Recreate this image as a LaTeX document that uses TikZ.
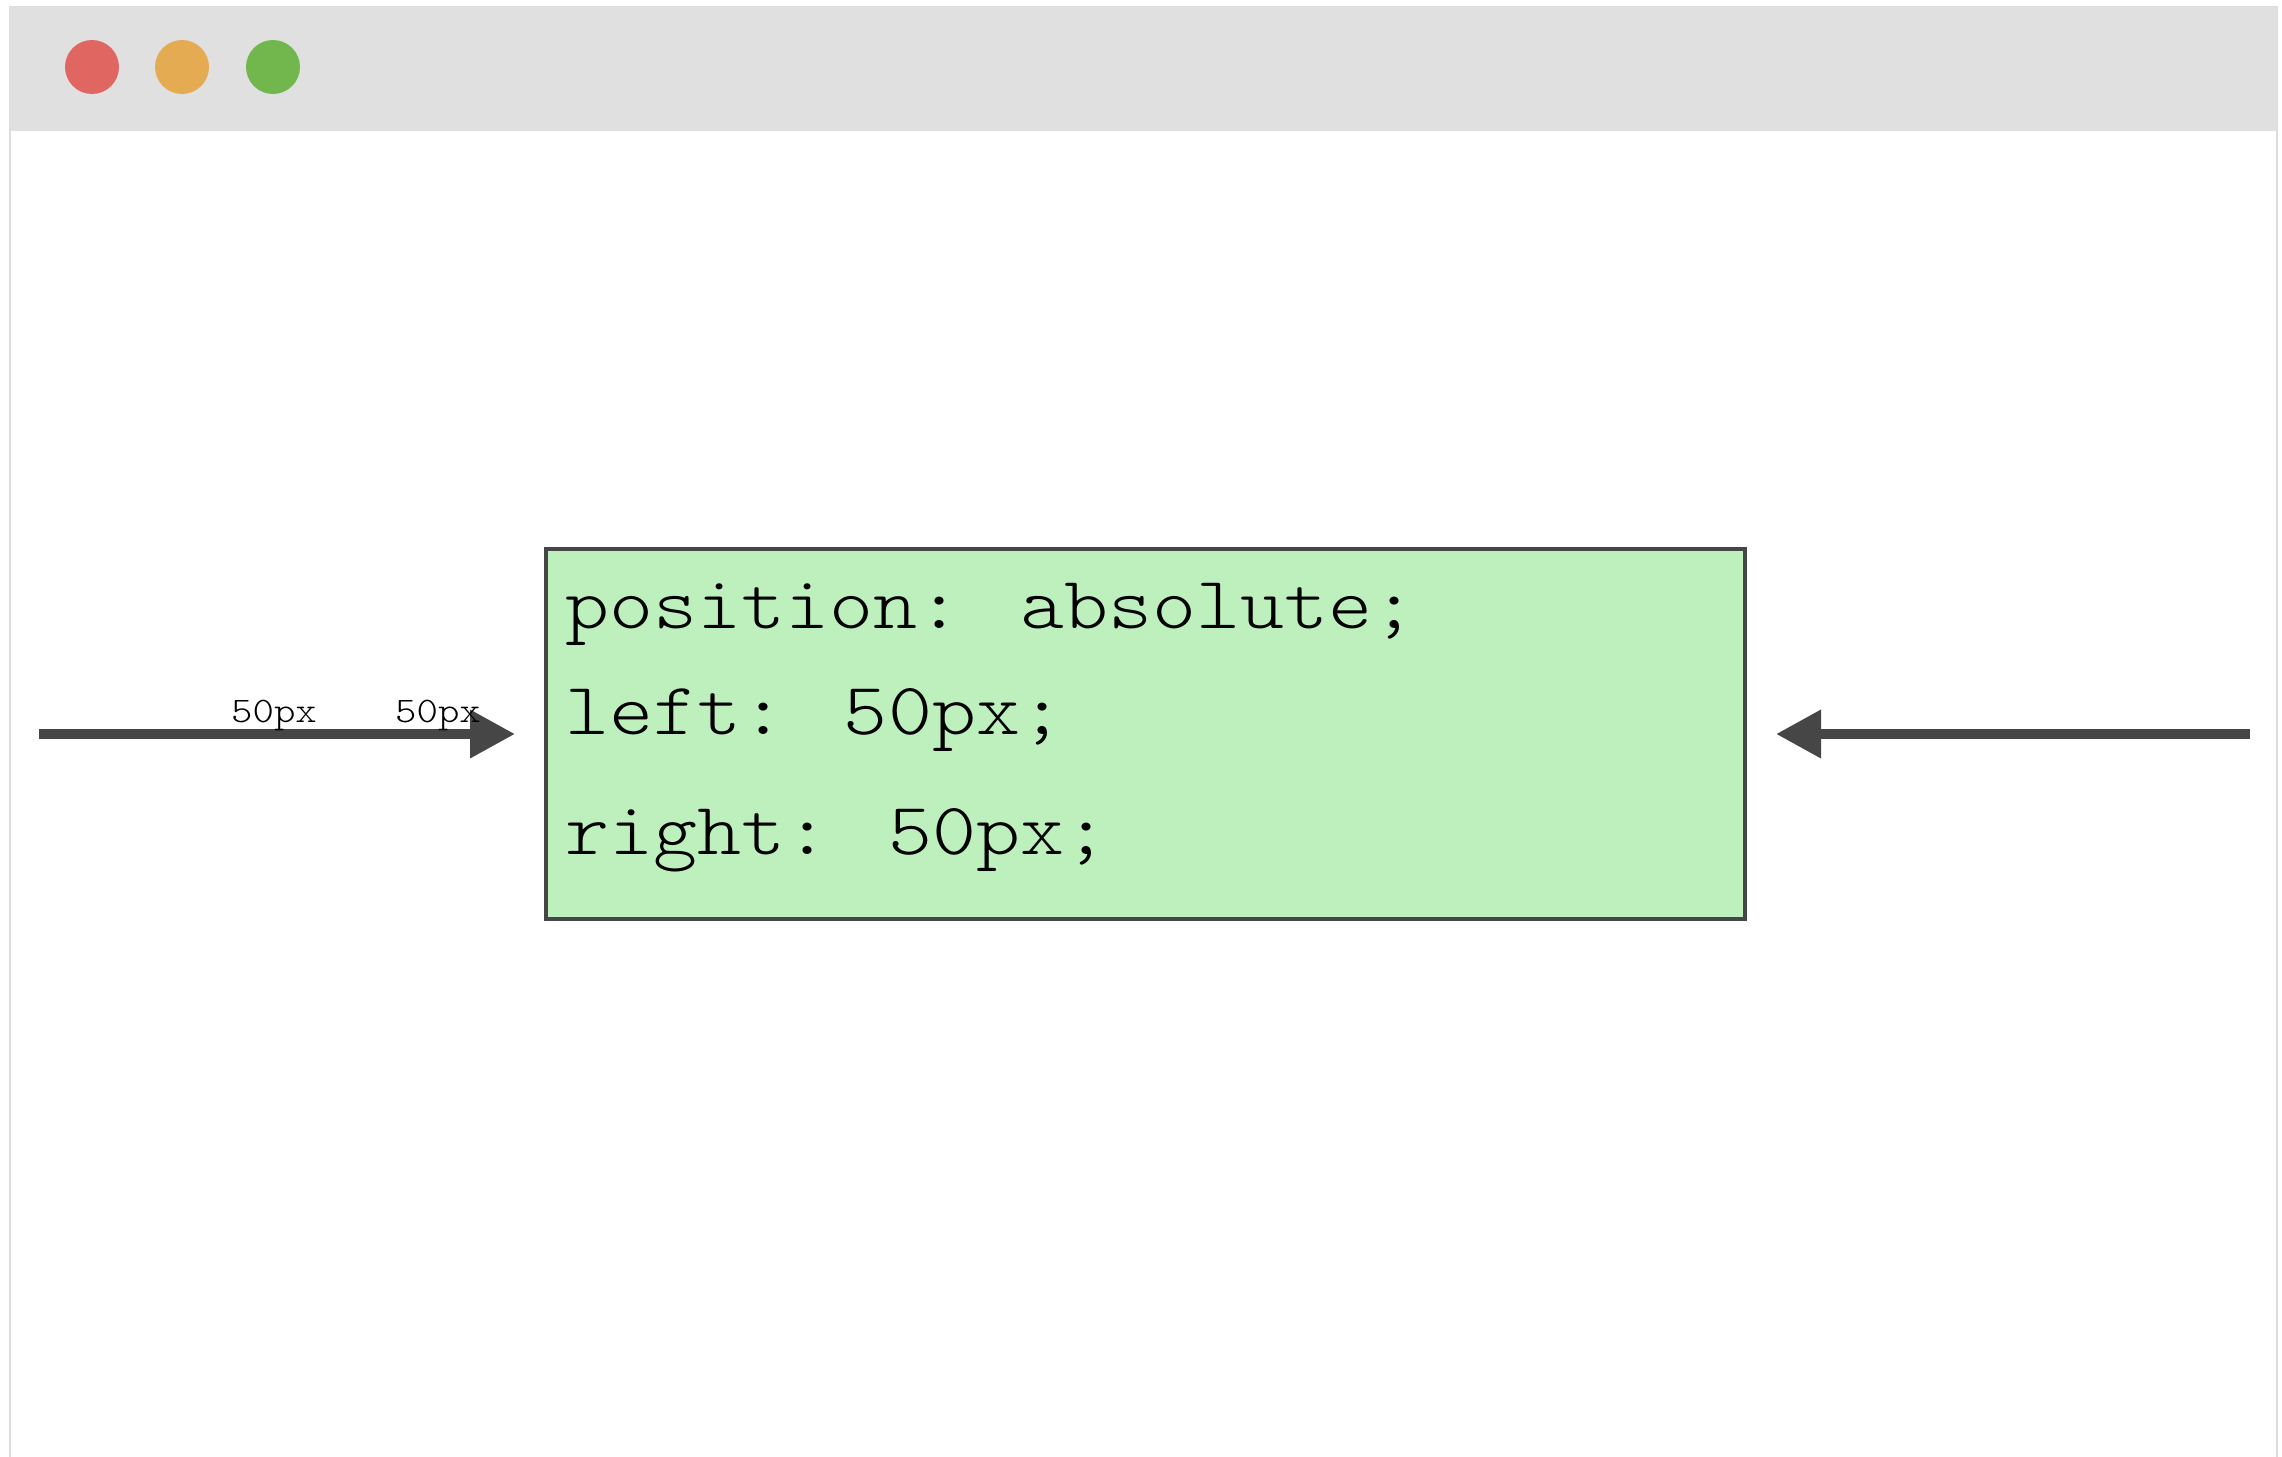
\documentclass[tikz,border=0pt]{standalone}
\usepackage{fontspec}
\newfontfamily\codefont{lmmonolt10-regular.otf}[FakeStretch=1.133]
\usepackage{xcolor}
\usetikzlibrary{arrows.meta, positioning, calc}

\definecolor{barGray}{HTML}{E0E0E0}
\definecolor{frameGray}{HTML}{DCDCDC}
\definecolor{darkGray}{HTML}{464646}
\definecolor{boxGreen}{HTML}{BDF0BD}
\definecolor{dotRed}{HTML}{E06661}
\definecolor{dotOrange}{HTML}{E4AB53}
\definecolor{dotGreen}{HTML}{72B74E}

\begin{document}
\begin{tikzpicture}[x=1pt, y=-1pt,
	dimarrow/.style={line width=10pt, draw=darkGray, -{Triangle[length=45pt, width=46pt]}},
	codeline/.style={anchor=base west, inner sep=0pt, font=\codefont\fontsize{74}{80}\selectfont},
	pxlabel/.style={anchor=base west, inner sep=0pt, font=\codefont\fontsize{36}{40}\selectfont}]
	% Page size
	\useasboundingbox (0,0) rectangle (2282,1456);
	\fill[white] (0,0) rectangle (2282,1456);
	
	% Browser window and title bar
	\begin{scope}
		\clip (0,0) rectangle (2282,1456);
		\draw[frameGray, line width=2pt, fill=white] (10,7) rectangle (2277,1480);
		\fill[barGray] (10,7) rectangle (2277,131);
	\end{scope}
	
	% Window buttons
	\foreach \x/\c in {92/dotRed, 182/dotOrange, 273/dotGreen} {
		\fill[\c] (\x,67) circle[radius=27pt];
	}
	
	% Absolutely positioned box
	\node[draw=darkGray, line width=4pt, fill=boxGreen, minimum width=1199pt, minimum height=370pt, inner sep=0pt] (abspos) at (1145.5,734) {};
	\node[codeline] (posline) at ($(abspos.north west)+(21,81)$) {position: absolute;};
	\node[codeline] (leftline) at ($(abspos.north west)+(21,187)$) {left: 50px;};
	\node[codeline] (rightline) at ($(abspos.north west)+(21,307)$) {right: 50px;};
	
	% Offset arrows
	\coordinate (lstart) at (39,734);
	\coordinate (rstart) at (2250,734);
	\draw[dimarrow, shorten >=29pt] (lstart) -- (abspos.west);
	\draw[dimarrow, shorten >=29pt] (rstart) -- (abspos.east);
	
	% Labels above the left arrow
	\node[pxlabel] (leftpx) at (231,722) {50px};
	\node[pxlabel] (rightpx) at (395,722) {50px};
	
\end{tikzpicture}
\end{document}
